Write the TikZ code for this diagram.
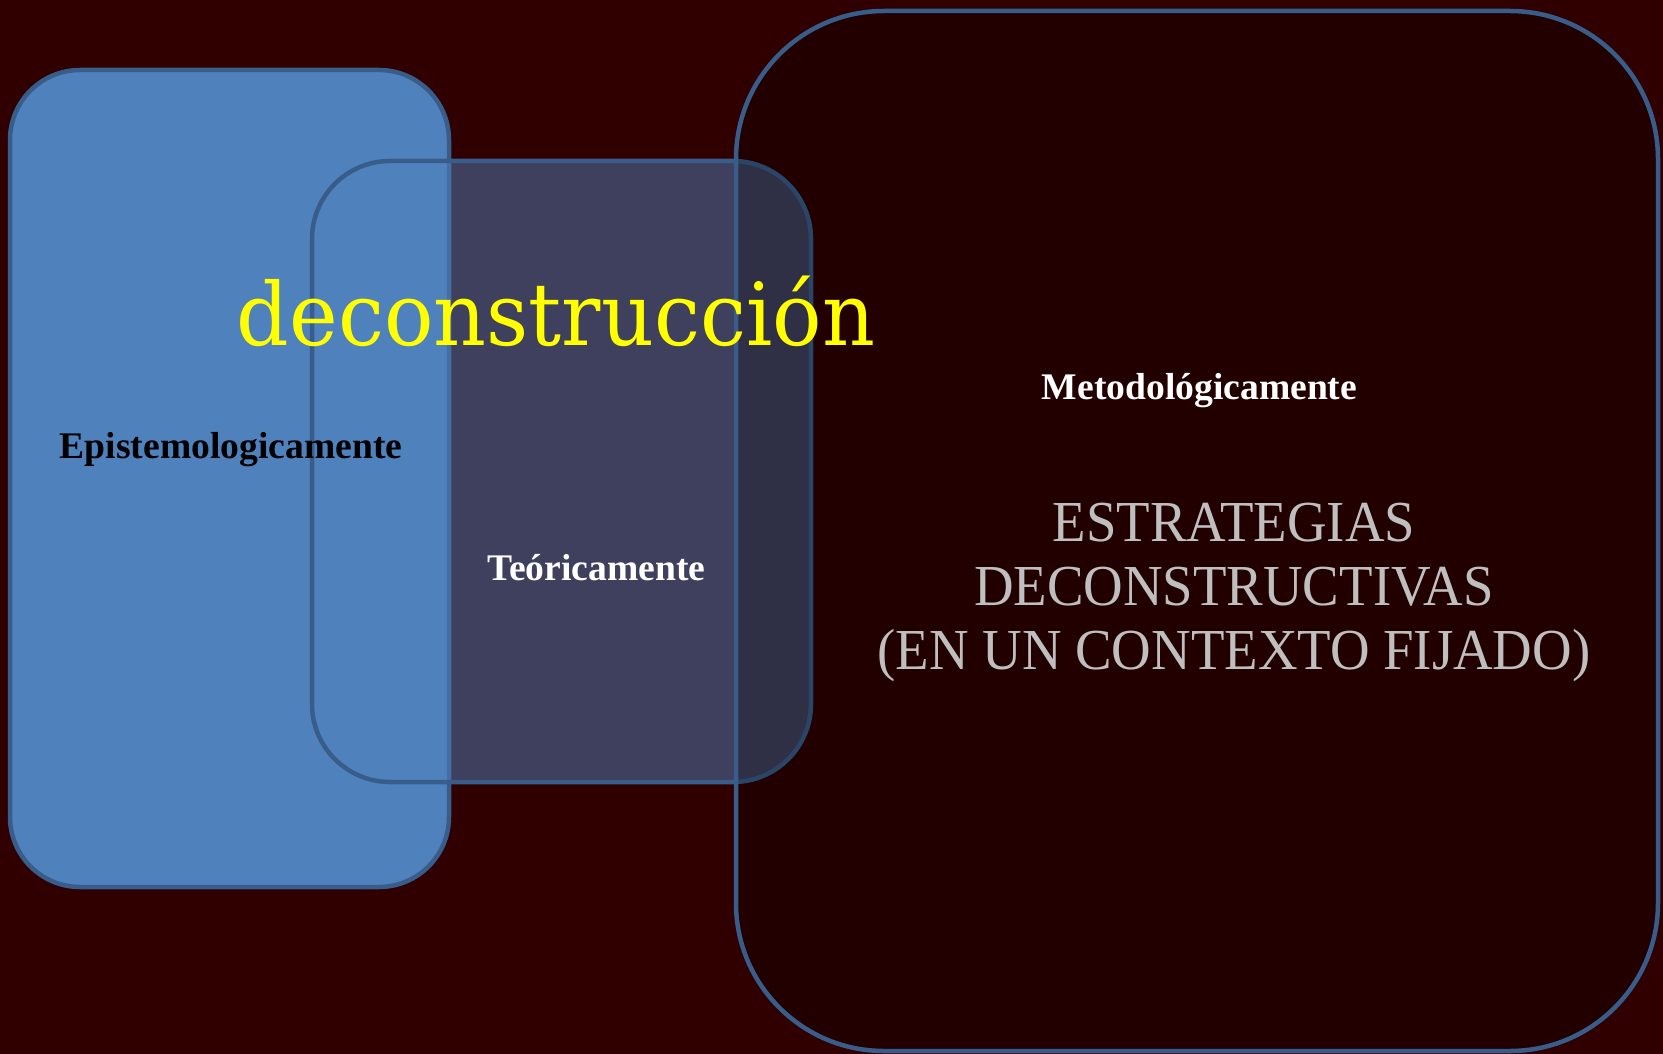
\documentclass[tikz,border=0pt]{standalone}
\usepackage{fontspec}
\setmainfont{Liberation Serif}
\newfontfamily\decofont[FakeStretch=0.945]{DejaVu Serif}
\newfontfamily\strfont[FakeStretch=0.945]{Liberation Serif}
\definecolor{bgred}{HTML}{300000}
\definecolor{boxblue}{HTML}{4F81BD}
\definecolor{edgeblue}{HTML}{385D8A}
\definecolor{strgray}{HTML}{BFBFBF}
\definecolor{decoyellow}{HTML}{FFFF00}
\begin{document}
\begin{tikzpicture}[x=1pt,y=-1pt,
  venn/.style={draw=edgeblue, line width=4.5pt, inner sep=0pt, outer sep=0pt},
  lbl/.style={font=\fontsize{37.6}{44}\selectfont\bfseries, anchor=base, inner sep=0pt},
  strline/.style={font=\strfont\fontsize{58}{64}\selectfont, text=strgray, anchor=base, inner sep=0pt}]
\useasboundingbox (0,0) rectangle (1663,1054);
\fill[bgred] (0,0) rectangle (1663,1054);
% circles of the Venn (rounded boxes)
\node[venn, fill=boxblue, rounded corners=70pt, minimum width=439pt, minimum height=817pt] (epi) at (229.5,478.5) {};
\node[venn, fill=boxblue, fill opacity=0.5, rounded corners=78pt, minimum width=499pt, minimum height=621pt] (teo) at (561.5,471.5) {};
\node[venn, fill=black, fill opacity=0.25, rounded corners=148pt, minimum width=922pt, minimum height=1040pt] (met) at (1197,531) {};
% labels
\node[lbl, text=black] (tepi) at (231,458) {Epistemologicamente};
\node[lbl, text=white] (tteo) at (596.5,580) {Teóricamente};
\node[lbl, text=white] (tmet) at (1199.5,399) {Metodológicamente};
\node[strline] (est1) at (1234,541) {ESTRATEGIAS};
\node[strline] (est2) at (1234,605) {DECONSTRUCTIVAS};
\node[strline] (est3) at (1234,669) {(EN UN CONTEXTO FIJADO)};
\node[font=\decofont\fontsize{87}{100}\selectfont, text=decoyellow, anchor=base, inner sep=0pt] (deco) at (556,345) {deconstrucción};
\end{tikzpicture}
\end{document}
